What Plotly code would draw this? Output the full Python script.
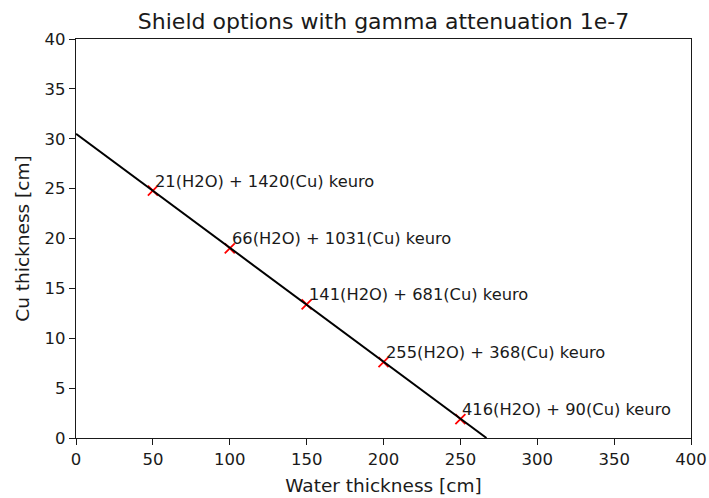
import plotly.graph_objects as go

# Shield thickness options (water vs copper) giving 1e-7 gamma attenuation
water_cm = [50, 100, 150, 200, 250]
cu_cm = [24.8, 19.0, 13.4, 7.6, 1.9]
water_cost_keuro = [21, 66, 141, 255, 416]
cu_cost_keuro = [1420, 1031, 681, 368, 90]

# Iso-attenuation line end points
line_water = [0, 267]
line_cu = [30.5, 0]

x_ticks = [0, 50, 100, 150, 200, 250, 300, 350, 400]
y_ticks = [0, 5, 10, 15, 20, 25, 30, 35, 40]

FONT = "DejaVu Sans"
INK = "#1a1a1a"

fig = go.Figure()
fig.add_trace(go.Scatter(
    x=water_cm, y=cu_cm, mode="markers",
    marker=dict(symbol="x-thin", size=10, line=dict(color="red", width=1.8)),
    showlegend=False, hoverinfo="skip",
))
fig.add_trace(go.Scatter(
    x=line_water, y=line_cu, mode="lines",
    line=dict(color="black", width=2),
    showlegend=False, hoverinfo="skip",
))

for xw, yc, cw, cc in zip(water_cm, cu_cm, water_cost_keuro, cu_cost_keuro):
    fig.add_annotation(
        x=xw, y=yc, text=f"{cw}(H2O) + {cc}(Cu) keuro",
        showarrow=False, xanchor="left", yanchor="bottom",
        xshift=0, yshift=-2,
        font=dict(family=FONT, size=16.3, color=INK),
    )

axis_common = dict(
    showgrid=False, zeroline=False, showline=True, mirror=True,
    automargin=False,
    linecolor=INK, linewidth=1.2, ticks="outside", ticklen=6,
    tickwidth=1.2, tickcolor=INK,
    tickfont=dict(family=FONT, size=16.5, color=INK),
)

fig.update_xaxes(
    range=[0, 400], tickvals=x_ticks,
    title=dict(text="Water thickness [cm]", font=dict(family=FONT, size=18.5, color=INK), standoff=11),
    **axis_common,
)
fig.update_yaxes(
    range=[0, 40], tickvals=y_ticks,
    title=dict(text="Cu thickness [cm]", font=dict(family=FONT, size=18.5, color=INK), standoff=10),
    **axis_common,
)

fig.update_layout(
    width=709, height=498,
    margin=dict(l=76, r=18, t=39, b=60, autoexpand=False),
    paper_bgcolor="white", plot_bgcolor="white",
    title=dict(text="Shield options with gamma attenuation 1e-7",
               font=dict(family=FONT, size=22, color=INK),
               x=0.5, xref="paper", y=1, yref="paper", yanchor="bottom",
               pad=dict(b=10)),
)

fig.write_html("out.html")
